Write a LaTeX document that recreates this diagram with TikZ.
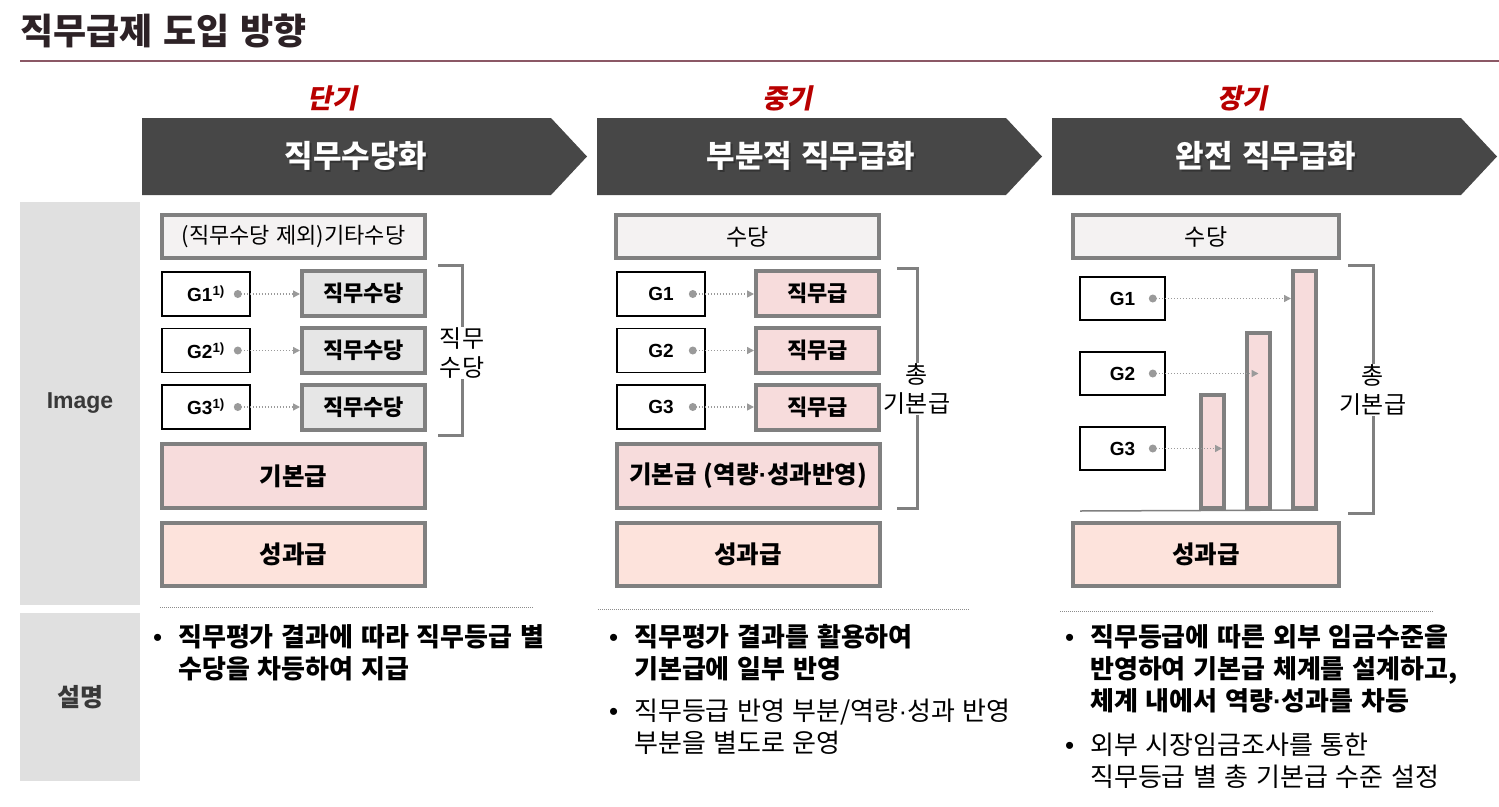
\documentclass[tikz,border=0pt]{standalone}
\usepackage{fontspec}
\setmainfont{Noto Sans CJK KR}[WordSpace=1.3]
\newfontfamily\latinfont{Liberation Sans}
\newfontfamily\stagefont{Noto Sans CJK KR}[FakeSlant=0.2]
\usetikzlibrary{arrows.meta, positioning, calc}
\definecolor{titlecol}{HTML}{2D2226}
\definecolor{rulecol}{HTML}{8B5865}
\definecolor{stagecol}{HTML}{B80000}
\definecolor{chevcol}{HTML}{474747}
\definecolor{sidecol}{HTML}{E0E0E0}
\definecolor{boxgray}{HTML}{808080}
\definecolor{topfill}{HTML}{F4F2F2}
\definecolor{jfill}{HTML}{E6E6E6}
\definecolor{pinkfill}{HTML}{F7DCDC}
\definecolor{perffill}{HTML}{FDE3DC}
\definecolor{arrgray}{HTML}{9A9A9A}
\tikzset{
  ttl/.style={text=titlecol, inner sep=0pt, font=\bfseries\fontsize{36}{40}\selectfont},
  rul/.style={draw=rulecol, line width=2pt},
  chev/.style={fill=chevcol, draw=none},
  chevlab/.style={text=white, font=\bfseries\fontsize{31}{34}\selectfont},
  stg/.style={text=stagecol, font=\stagefont\bfseries\fontsize{27}{30}\selectfont},
  side/.style={fill=sidecol, minimum width=120pt, inner sep=0pt, text=black!78, font=\bfseries\fontsize{25}{28}\selectfont},
  topbox/.style={draw=boxgray, line width=4pt, fill=topfill, minimum width=263pt, minimum height=43pt, inner sep=0pt, font=\fontsize{23}{26}\selectfont},
  gbox/.style={draw=black, line width=1.6pt, fill=white, minimum width=88pt, minimum height=44pt, inner sep=0pt, font=\latinfont\bfseries\fontsize{19}{22}\selectfont},
  jbox/.style={draw=boxgray, line width=4pt, fill=jfill, minimum width=123pt, minimum height=45pt, inner sep=0pt, font=\bfseries\fontsize{22}{26}\selectfont},
  pbox/.style={jbox, fill=pinkfill},
  basebox/.style={draw=boxgray, line width=4pt, fill=pinkfill, minimum width=263pt, minimum height=64pt, inner sep=0pt, font=\bfseries\fontsize{24.5}{28}\selectfont},
  perfbox/.style={basebox, fill=perffill, minimum height=63pt},
  bar/.style={draw=boxgray, line width=4pt, fill=pinkfill, minimum width=23pt, inner sep=0pt},
  dar/.style={-{Triangle[length=7pt, width=7pt]}, draw=arrgray, line width=1.5pt, dash pattern=on 1.5pt off 1.5pt},
  brk/.style={draw=boxgray, line width=3pt},
  blab/.style={fill=white, inner sep=1pt, align=center, font=\fontsize{24}{29}\selectfont},
  sep/.style={draw=black!45, line width=0.8pt, dash pattern=on 1pt off 1pt},
  blt/.style={anchor=north west, inner sep=0pt, align=left, font=\fontsize{26}{32}\selectfont},
  bltb/.style={blt, font=\bfseries\fontsize{26}{32}\selectfont}
}
\newcommand{\garr}[2]{\fill[arrgray] ($(#1.east)+(-13,0)$) circle (4pt); \draw[dar] ($(#1.east)+(-13,0)$) -- (#2 |- #1.east);}
\newcommand{\bul}{\llap{{\latinfont\mdseries\textbullet}\hspace{16pt}}}
\newcommand{\mdot}{{\latinfont ·}}
\begin{document}
\begin{tikzpicture}[x=1pt, y=-1pt]
	\useasboundingbox (0,0) rectangle (1499,806);
	\node[ttl, anchor=west] (ttl) at (20,31) {직무급제 도입 방향};
	\draw[rul] (20,61) -- (1499,61);
	\foreach \x/\s/\c/\n in {142/단기/직무수당화/1, 597/중기/부분적 직무급화/2, 1052/장기/완전 직무급화/3}{
		\draw[chev] (\x,118) -- ++(409,0) -- ++(36,38.5) -- ++(-36,38.5) -- ++(-409,0) -- cycle;
		\node[chevlab, text=black!80] (cs\n) at (\x+215.5,157.5) {\c};
		\node[chevlab] (c\n) at (\x+214,156) {\c};
		\node[stg] (s\n) at (\x+190,98) {\s};
	}
	\node[side, minimum height=403pt, font=\latinfont\bfseries\fontsize{23}{28}\selectfont] (simg) at (80,403.5) {Image};
	\node[side, minimum height=168pt] (sdsc) at (80,697) {설명};
	\node[topbox, font=\fontsize{22}{26}\selectfont] (t1) at (293.5,236.5) {(직무수당 제외)기타수당};
	\node[gbox] (g11) at (206,294) {G1\textsuperscript{1)}};
	\node[gbox] (g12) at (206,350.5) {G2\textsuperscript{1)}};
	\node[gbox] (g13) at (206,407) {G3\textsuperscript{1)}};
	\node[jbox] (j11) at (363.5,293.5) {직무수당};
	\node[jbox] (j12) at (363.5,350.5) {직무수당};
	\node[jbox] (j13) at (363.5,407) {직무수당};
	\node[basebox] (b1) at (293.5,476) {기본급};
	\node[perfbox] (p1) at (293.5,554.5) {성과급};
	\garr{g11}{j11.west}
	\garr{g12}{j12.west}
	\garr{g13}{j13.west}
	\draw[brk] (438,265) -- (462,265) -- (462,435) -- (438,435);
	\node[blab] (l1) at (462,353) {직무\\수당};
	\node[topbox] (t2) at (747.5,236.5) {수당};
	\node[gbox] (g21) at (661,294) {G1};
	\node[gbox] (g22) at (661,350.5) {G2};
	\node[gbox] (g23) at (661,407) {G3};
	\node[pbox] (j21) at (817.5,293.5) {직무급};
	\node[pbox] (j22) at (817.5,350.5) {직무급};
	\node[pbox] (j23) at (817.5,407) {직무급};
	\node[basebox] (b2) at (748,476) {기본급 (역량\mdot 성과반영)};
	\node[perfbox] (p2) at (748,554.5) {성과급};
	\garr{g21}{j21.west}
	\garr{g22}{j22.west}
	\garr{g23}{j23.west}
	\draw[brk] (897,268) -- (917,268) -- (917,508) -- (897,508);
	\node[blab] (l2) at (917,389) {총\\기본급};
	\node[topbox, minimum width=266pt] (t3) at (1206,236.5) {수당};
	\node[gbox, minimum width=85pt, minimum height=43pt] (g31) at (1122.5,298.5) {G1};
	\node[gbox, minimum width=85pt, minimum height=43pt] (g32) at (1122.5,373.5) {G2};
	\node[gbox, minimum width=85pt, minimum height=43pt] (g33) at (1122.5,448.5) {G3};
	\node[bar, minimum height=113pt] (r3) at (1212.5,451.5) {};
	\node[bar, minimum height=175pt] (r2) at (1258.5,420.5) {};
	\node[bar, minimum height=237pt] (r1) at (1304.5,389.5) {};
	\coordinate (r3i) at ($(r3.east)+(-4,0)$);
	\draw[draw=boxgray, line width=1.5pt] (1080,511) -- (r1.south east);
	\node[perfbox, minimum width=266pt] (p3) at (1206,554.5) {성과급};
	\garr{g31}{r1.west}
	\garr{g32}{r2.center}
	\garr{g33}{r3i}
	\draw[brk] (1348,265) -- (1373,265) -- (1373,513) -- (1348,513);
	\node[blab] (l3) at (1373,390) {총\\기본급};
	\draw[sep] (160,607) -- (533,607);
	\draw[sep] (598,609) -- (970,609);
	\draw[sep] (1060,611) -- (1433,611);
	\node[bltb] (d11) at (178,624) {\bul 직무평가 결과에 따라 직무등급 별\\수당을 차등하여 지급};
	\node[bltb] (d21) at (634,624) {\bul 직무평가 결과를 활용하여\\기본급에 일부 반영};
	\node[blt] (d22) at (634,699) {\bul 직무등급 반영 부분/역량\mdot 성과 반영\\부분을 별도로 운영};
	\node[bltb] (d31) at (1090,624) {\bul 직무등급에 따른 외부 임금수준을\\반영하여 기본급 체계를 설계하고,\\체계 내에서 역량\mdot 성과를 차등};
	\node[blt] (d32) at (1090,733) {\bul 외부 시장임금조사를 통한\\직무등급 별 총 기본급 수준 설정};
\end{tikzpicture}
\end{document}
